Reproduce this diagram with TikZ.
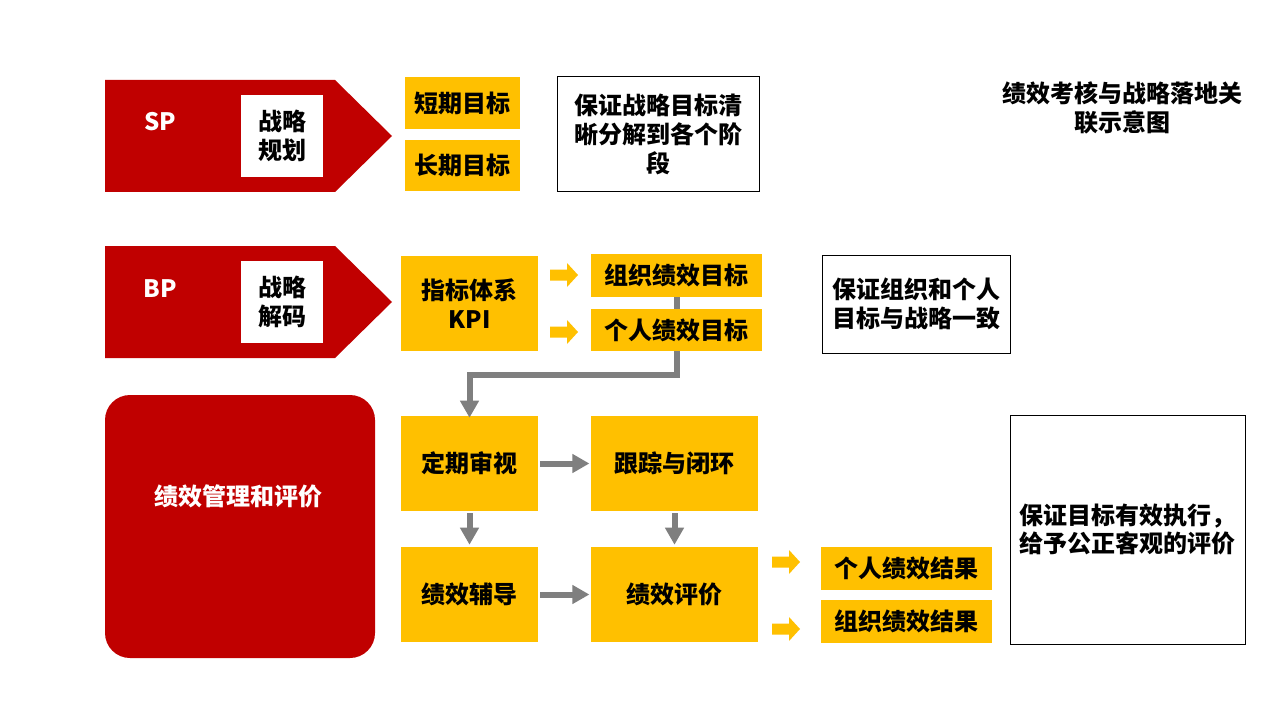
\documentclass[tikz,border=0pt]{standalone}
\usepackage{fontspec}
\setmainfont{Noto Sans CJK SC}
\usetikzlibrary{arrows.meta}
\definecolor{cred}{HTML}{C00000}
\definecolor{cyel}{HTML}{FFC000}
\definecolor{cgray}{HTML}{7F7F7F}
\tikzset{
  sz/.style 2 args={minimum width=#1*0.75pt, minimum height=#2*0.75pt},
  txt/.style={font=\fontsize{18}{21.6}\selectfont\bfseries, align=center, inner sep=0pt},
  ybox/.style={txt, fill=cyel},
  wbox/.style={txt, fill=white},
  lbox/.style={txt, draw=black, line width=0.75pt, fill=white},
  wtxt/.style={txt, text=white},
  garr/.style={draw=cgray, line width=4.5pt, -{Triangle[width=13.5pt,length=12.75pt]}},
  gline/.style={draw=cgray, line width=4.5pt},
  yarr/.pic={\fill[cyel] (-14,-5.5) -- (3,-5.5) -- (3,-12) -- (14,0) -- (3,12) -- (3,5.5) -- (-14,5.5) -- cycle;}
}
\begin{document}
\begin{tikzpicture}[x=0.75pt,y=-0.75pt]
\useasboundingbox (0,0) rectangle (1280,720);
\fill[white] (0,0) rectangle (1280,720);
% SP pentagon
\fill[cred] (105,80) -- (335,80) -- (392,136) -- (335,192) -- (105,192) -- cycle;
\node[wtxt] (sp) at (160,122) {SP};
\node[wbox, sz={82}{82}] (spb) at (282,136) {战略\\规划};
\node[ybox, sz={115}{52}] (st) at (462.5,103) {短期目标};
\node[ybox, sz={115}{51}] (lt) at (462.5,165.5) {长期目标};
\node[lbox, sz={202}{115}] (t1) at (658,134.5) {保证战略目标清\\晰分解到各个阶\\段};
\node[txt] (title) at (1122,107.5) {绩效考核与战略落地关\\联示意图};
% BP pentagon
\fill[cred] (105,246) -- (335,246) -- (392,302) -- (335,358) -- (105,358) -- cycle;
\node[wtxt] (bp) at (160,289) {BP};
\node[wbox, sz={82}{82}] (bpb) at (282,302) {战略\\解码};
\node[ybox, sz={137}{95}] (kpi) at (469.5,303.5) {指标体系\\KPI};
\node[ybox, sz={171}{43}] (zz) at (676.5,275.5) {组织绩效目标};
\node[ybox, sz={171}{42}] (gr) at (676.5,330) {个人绩效目标};
\pic at (564,275) {yarr};
\pic at (564,332) {yarr};
\node[lbox, sz={188}{98}] (t2) at (916,304) {保证组织和个人\\目标与战略一致};
% bottom section
\node[fill=cred, rounded corners=18.75pt, sz={270}{263}] (big) at (240,526.5) {};
\node[wtxt] (bigt) at (238,496) {绩效管理和评价};
\node[ybox, sz={137}{95}] (dq) at (469.5,463.5) {定期审视};
\node[ybox, sz={167}{95}] (gz) at (674.5,463.5) {跟踪与闭环};
\node[ybox, sz={137}{95}] (fd) at (469.5,594.5) {绩效辅导};
\node[ybox, sz={167}{95}] (pj) at (674.5,594.5) {绩效评价};
\node[ybox, sz={171}{43}] (gj) at (906.5,568.5) {个人绩效结果};
\node[ybox, sz={171}{43}] (zj) at (906.5,621.5) {组织绩效结果};
\pic at (786,562) {yarr};
\pic at (786,629) {yarr};
\node[lbox, sz={235}{229}] (t3) at (1127.5,529.5) {保证目标有效执行，\\给予公正客观的评价};
% connectors
\draw[gline] (zz.south) -- (gr.north);
\draw[garr] (gr.south) -- ++(0,24) -| ([yshift=-1.5pt]dq.north);
\draw[garr, shorten <=1.5pt, shorten >=1pt] (dq.east) -- (gz.west);
\draw[garr, shorten <=1.5pt, shorten >=1pt] (fd.east) -- (pj.west);
\draw[garr, shorten <=1.5pt, shorten >=1.5pt] (dq.south) -- (fd.north);
\draw[garr, shorten <=1.5pt, shorten >=1.5pt] (gz.south) -- (pj.north);
\end{tikzpicture}
\end{document}
